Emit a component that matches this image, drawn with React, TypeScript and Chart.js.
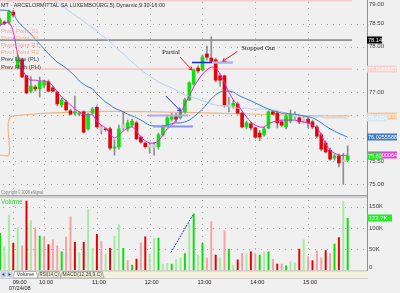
import React, { useEffect, useRef } from 'react';
import { Chart, registerables } from 'chart.js';

Chart.register(...registerables);

const W = 400;
const H = 293;

// ---- price bars (5-minute), index 0..79 ----
const opens = [
  78.49, 78.53, 78.53, 78.75, 77.55, 77.71, 77.36, 77.03, 77.12, 77.08,
  77.16, 77.23, 77.10, 77.01, 76.73, 76.79, 76.60, 76.55, 76.53, 76.58,
  76.21, 76.55, 76.68, 76.25, 76.21, 76.21, 75.79, 75.82, 76.23, 76.21,
  76.29, 76.34, 76.03, 75.90, 75.86, 75.80, 75.82, 76.08, 76.27, 76.42,
  76.47, 76.45, 76.58, 76.84, 77.18, 77.53, 77.49, 77.84, 77.75, 77.71,
  77.36, 77.36, 76.71, 76.71, 76.75, 76.55, 76.25, 76.32, 76.23, 76.12,
  76.08, 76.23, 76.58, 76.55, 76.36, 76.25, 76.38, 76.47, 76.45, 76.38,
  76.42, 76.36, 76.25, 76.08, 75.90, 75.75, 75.58, 75.62, 75.53, 75.53,
];
const highs = [
  78.62, 78.56, 78.79, 78.79, 77.82, 77.75, 77.38, 77.34, 77.16, 77.34,
  77.27, 77.27, 77.14, 77.03, 76.88, 76.84, 76.64, 76.92, 76.58, 76.60,
  76.55, 76.68, 76.71, 76.29, 76.23, 76.25, 75.97, 76.29, 76.58, 76.40,
  76.42, 76.38, 76.05, 75.92, 75.90, 75.92, 76.12, 76.29, 76.51, 76.55,
  76.55, 76.60, 76.88, 77.23, 77.51, 77.58, 77.82, 78.01, 78.21, 77.75,
  77.40, 77.38, 76.90, 76.82, 76.79, 76.58, 76.38, 76.36, 76.25, 76.18,
  76.25, 76.60, 76.60, 76.60, 76.40, 76.53, 76.62, 76.58, 76.49, 76.49,
  76.47, 76.40, 76.29, 76.12, 75.95, 75.79, 75.66, 75.66, 75.68, 75.84,
];
const lows = [
  78.45, 78.47, 78.49, 78.64, 77.51, 77.32, 76.97, 76.99, 77.03, 76.90,
  77.10, 77.01, 77.01, 76.71, 76.68, 76.60, 76.51, 76.51, 76.49, 76.12,
  76.18, 76.53, 76.23, 76.10, 76.16, 75.75, 75.64, 75.77, 76.18, 76.16,
  76.25, 75.97, 75.90, 75.79, 75.68, 75.64, 75.77, 76.05, 76.25, 76.38,
  76.36, 76.42, 76.55, 76.82, 77.16, 77.42, 77.47, 77.71, 77.66, 77.23,
  77.14, 76.68, 76.58, 76.66, 76.53, 76.23, 76.21, 76.18, 76.01, 75.95,
  76.05, 76.21, 76.51, 76.23, 76.25, 76.21, 76.34, 76.42, 76.32, 76.34,
  76.23, 76.21, 76.01, 75.73, 75.68, 75.53, 75.53, 75.38, 75.00, 75.49,
];
const closes = [
  78.58, 78.50, 78.75, 78.68, 77.77, 77.34, 76.99, 77.14, 77.08, 77.23,
  77.23, 77.03, 77.03, 76.75, 76.84, 76.62, 76.53, 76.58, 76.55, 76.14,
  76.53, 76.64, 76.25, 76.18, 76.19, 75.79, 75.82, 76.21, 76.29, 76.34,
  76.38, 75.99, 75.92, 75.82, 75.81, 75.86, 76.08, 76.27, 76.45, 76.47,
  76.42, 76.58, 76.84, 77.21, 77.49, 77.47, 77.77, 77.77, 77.68, 77.27,
  77.27, 76.73, 76.73, 76.77, 76.55, 76.25, 76.34, 76.23, 76.03, 76.03,
  76.21, 76.58, 76.53, 76.34, 76.29, 76.49, 76.53, 76.53, 76.36, 76.45,
  76.34, 76.25, 76.05, 75.77, 75.71, 75.55, 75.62, 75.47, 75.50, 75.62,
];
const paleBars = [23, 28, 34, 35, 52, 67, 69, 78];

// ---- volume (thousands) and its tone: G up, g up (pale), R down, r down (pale) ----
const volumesK = [
  87, 56, 130, 64, 101, 58, 163, 117, 100, 81,
  79, 61, 72, 58, 44, 79, 126, 66, 42, 66,
  144, 52, 85, 68, 39, 52, 81, 108, 52, 23,
  13, 27, 65, 79, 39, 76, 76, 15, 17, 15,
  27, 29, 40, 111, 133, 36, 64, 29, 115, 36,
  29, 93, 50, 13, 25, 40, 40, 44, 40, 36,
  44, 44, 26, 15, 15, 11, 21, 18, 50, 72,
  32, 23, 46, 29, 47, 40, 62, 77, 162, 122.7,
];
const volumeTones = [
  'G', 'g', 'g', 'R', 'g', 'r', 'R', 'g', 'r', 'G',
  'r', 'R', 'r', 'r', 'G', 'r', 'r', 'R', 'g', 'R',
  'g', 'g', 'R', 'r', 'g', 'R', 'g', 'g', 'G', 'r',
  'G', 'R', 'r', 'R', 'g', 'g', 'G', 'g', 'g', 'G',
  'g', 'g', 'G', 'g', 'G', 'g', 'G', 'r', 'r', 'R',
  'g', 'r', 'G', 'g', 'R', 'r', 'g', 'R', 'r', 'G',
  'g', 'G', 'r', 'R', 'r', 'G', 'g', 'g', 'R', 'g',
  'r', 'R', 'r', 'r', 'R', 'r', 'G', 'R', 'g', 'G',
];

// ---- studies ----
const fastAvg = [
  78.47, 78.50, 78.53, 78.32, 77.82, 77.53, 77.34, 77.27, 77.27, 77.25,
  77.25, 77.23, 77.14, 77.01, 76.90, 76.82, 76.73, 76.64, 76.58, 76.53,
  76.51, 76.51, 76.38, 76.29, 76.23, 76.10, 76.01, 76.08, 76.16, 76.23,
  76.25, 76.16, 76.03, 75.95, 75.90, 75.90, 75.95, 76.08, 76.21, 76.29,
  76.40, 76.55, 76.75, 76.92, 77.12, 77.27, 77.40, 77.49, 77.55, 77.53,
  77.40, 77.21, 77.01, 76.84, 76.73, 76.60, 76.47, 76.36, 76.29, 76.25,
  76.25, 76.32, 76.36, 76.38, 76.40, 76.40, 76.40, 76.40, 76.38, 76.36,
  76.34, 76.29, 76.23, 76.08, 75.88, 75.75, 75.68, 75.64, 75.63, 75.64,
];
const midAvg = [
  78.79, 78.79, 78.77, 78.71, 78.55, 78.45, 78.36, 78.27, 78.16, 78.05,
  77.95, 77.84, 77.75, 77.66, 77.60, 77.53, 77.45, 77.36, 77.25, 77.18,
  77.12, 77.08, 76.97, 76.88, 76.79, 76.73, 76.66, 76.62, 76.58, 76.53,
  76.49, 76.45, 76.40, 76.34, 76.29, 76.27, 76.27, 76.27, 76.29, 76.32,
  76.34, 76.34, 76.36, 76.40, 76.47, 76.55, 76.64, 76.75, 76.86, 76.95,
  77.01, 77.03, 77.03, 77.01, 76.95, 76.90, 76.86, 76.82, 76.77, 76.73,
  76.68, 76.64, 76.60, 76.58, 76.55, 76.55, 76.53, 76.53, 76.51, 76.49,
  76.47, 76.45, 76.40, 76.34, 76.27, 76.21, 76.16, 76.11, 76.07, 76.03,
];
const slowAvg = [
  null, null, null, null, null, null, null, null, null, null,
  null, null, 79.01, 78.95, 78.88, 78.82, 78.75, 78.68, 78.62, 78.55,
  78.47, 78.40, 78.34, 78.25, 78.18, 78.10, 78.01, 77.92, 77.84, 77.75,
  77.66, 77.58, 77.49, 77.42, 77.36, 77.29, 77.23, 77.18, 77.14, 77.10,
  77.05, 76.99, 76.95, 76.92, 76.88, 76.86, 76.82, 76.79, 76.75, 76.73,
  76.71, 76.71, 76.68, 76.68, 76.66, 76.66, 76.66, 76.64, 76.64, 76.64,
  76.64, 76.62, 76.62, 76.60, 76.58, 76.55, 76.53, 76.51, 76.49, 76.49,
  76.47, 76.47, 76.47, 76.47, 76.45, 76.45, 76.45, 76.45, 76.45, 76.44,
];
const prevLevelX = [0, 2, 3, 79.5];
const prevLevelY = [75.64, 75.64, 76.49, 76.49];
const pivotLevels = [78.14, 77.51, 79.0];

// ---- axes ----
const priceTicks = [75.0, 75.5, 76.0, 76.5, 77.0, 77.5, 78.0, 78.5, 79.0];
const priceTickLabels = ['75.00', '75.50', '76.00', '76.50', '77.00', '77.50', '78.00', '78.50', '79.00'];
const volumeTicks = [0, 50, 100, 150];
const volumeTickLabels = ['0', '50K', '100K', '150K'];
const timeTickBars = [4, 10, 22, 34, 46, 58, 70];
const timeTickLabels = ['09:00', '10:00', '11:00', '12:00', '13:00', '14:00', '15:00'];
const gridBars = [3, 10, 22, 34, 46, 58, 70];
const dateLabel = '07/24/08';

// ---- right-edge value tags ----
const tagPrices = [78.14, 77.5066667, 76.493333, 76.4354, 76.0255588, 75.6386, 75.62];
const tagTexts = ['78.14', '77.5066667', '76.4933333', '76.4354', '76.0255588', '75.6300064', '75.62'];
const volumeTagValue = 122.7;
const volumeTagText = '122.7K';

// ---- chart annotations (bar index, price) ----
const markFrom = [33.6, 34.8, 43.6, 48.4];
const markTo = [42.7, 43.8, 48.2, 52.9];
const markPrice = [76.51, 76.27, 77.66, 77.66];
const arrowFromX = [40.9, 53.9, 37.7];
const arrowFromP = [77.77, 77.89, 76.92];
const arrowToX = [43.6, 50.6, 41.0];
const arrowToP = [77.49, 77.68, 76.60];
const noteTexts = ['Partial', 'Stopped Out'];
const noteX = [36.8, 54.8];
const noteP = [77.88, 77.96];
const volLineX = [38.8, 43.8];
const volLineV = [42, 130];

const pivotNames = ['Pivot Point S1', 'Pivot Point S2', 'Pivot Point R1', 'Pivot Point R2', 'Prev Low (PL)', 'Prev High (PH)'];
const titleText = 'MT - ARCELORMITTAL SA LUXEMBOURG,5) Dynamic,9:30-16:00';

const SANS = '"Liberation Sans", Arial, sans-serif';
const SERIF = '"Liberation Serif", "Times New Roman", serif';

function drawArrow(ctx: CanvasRenderingContext2D, x1: number, y1: number, x2: number, y2: number, color: string) {
  ctx.strokeStyle = color;
  ctx.lineWidth = 1;
  ctx.beginPath();
  ctx.moveTo(x1, y1);
  ctx.lineTo(x2, y2);
  ctx.stroke();
  const a = Math.atan2(y2 - y1, x2 - x1);
  const h = 3.5;
  ctx.beginPath();
  ctx.moveTo(x2 - h * Math.cos(a - 0.55), y2 - h * Math.sin(a - 0.55));
  ctx.lineTo(x2, y2);
  ctx.lineTo(x2 - h * Math.cos(a + 0.55), y2 - h * Math.sin(a + 0.55));
  ctx.stroke();
}

const decor = {
  id: 'decor',
  beforeDraw(chart: any) {
    const { ctx, width, height } = chart;
    const xs = chart.scales.x;
    const ys = chart.scales.y;
    const yv = chart.scales.yv;
    const area = chart.chartArea;
    ctx.save();
    ctx.fillStyle = '#f0f0f0';
    ctx.fillRect(0, 0, width, height);
    ctx.fillStyle = '#a4a4a4';
    // dotted horizontal grid (price)
    priceTicks.forEach((p) => {
      const py = Math.round(ys.getPixelForValue(p));
      if (py < 2 || py > 194) return;
      for (let px = 3; px < area.right; px += 6) ctx.fillRect(px, py, 1, 1);
    });
    // dotted horizontal grid (volume)
    volumeTicks.forEach((v) => {
      if (v === 0) return;
      const py = Math.round(yv.getPixelForValue(v));
      for (let px = 3; px < area.right; px += 6) ctx.fillRect(px, py, 1, 1);
    });
    // dotted vertical grid
    gridBars.forEach((b) => {
      const px = Math.round(xs.getPixelForValue(b));
      for (let py = 2; py < area.bottom; py += 6) {
        if (py > 193 && py < 199) continue;
        ctx.fillRect(px, py, 1, 1);
      }
    });
    ctx.restore();
  },
  afterDatasetsDraw(chart: any) {
    const { ctx } = chart;
    const xs = chart.scales.x;
    const ys = chart.scales.y;
    const yv = chart.scales.yv;
    const area = chart.chartArea;
    const px = (v: number) => xs.getPixelForValue(v);
    const py = (v: number) => ys.getPixelForValue(v);
    ctx.save();

    // trade markers
    const markColors = ['#a9acf2', '#8d90ee', '#1428e6', '#aeb0f4'];
    const markWidths = [2, 2, 1.5, 2.5];
    markFrom.forEach((f, i) => {
      ctx.strokeStyle = markColors[i];
      ctx.lineWidth = markWidths[i];
      ctx.beginPath();
      const y = Math.round(py(markPrice[i])) + 0.5;
      ctx.moveTo(px(f), y);
      ctx.lineTo(px(markTo[i]), y);
      ctx.stroke();
    });

    // arrows
    const arrowColors = ['#f02020', '#f02020', '#2a2ae0'];
    arrowFromX.forEach((fx, i) => {
      drawArrow(ctx, px(fx), py(arrowFromP[i]), px(arrowToX[i]), py(arrowToP[i]), arrowColors[i]);
    });
    // volume trend line
    ctx.strokeStyle = '#2a36e0';
    ctx.lineWidth = 1;
    ctx.setLineDash([2, 1]);
    ctx.beginPath();
    ctx.moveTo(px(volLineX[0]), yv.getPixelForValue(volLineV[0]));
    ctx.lineTo(px(volLineX[1]), yv.getPixelForValue(volLineV[1]));
    ctx.stroke();
    ctx.setLineDash([]);

    // notes
    ctx.font = '7px ' + SERIF;
    ctx.fillStyle = '#1a1a1a';
    ctx.textAlign = 'left';
    ctx.textBaseline = 'middle';
    noteTexts.forEach((t, i) => {
      ctx.fillText(t, px(noteX[i]), py(noteP[i]), i === 0 ? 18 : 34);
    });

    // panel separator and right border
    ctx.fillStyle = '#a2a2a2';
    ctx.fillRect(0, 195, area.right, 1);
    ctx.fillStyle = '#d2d2d2';
    ctx.fillRect(0, 196, area.right, 1);
    ctx.fillStyle = '#b8b8b8';
    ctx.fillRect(0, 197, area.right, 0.6);
    ctx.fillStyle = '#8e8e8e';
    ctx.fillRect(area.right, 0, 1, 271);

    // title, pivot names, copyright, volume caption
    ctx.textBaseline = 'middle';
    ctx.font = '6px ' + SANS;
    ctx.fillStyle = '#2c2c2c';
    ctx.fillText(titleText, 1, 5, 164);
    const pivotColors = ['#f2a8a8', '#f4b49c', '#f2a4a4', '#f2b27c', '#3a3a3a', '#3a3a3a'];
    pivotNames.forEach((n, i) => {
      ctx.fillStyle = pivotColors[i];
      ctx.fillText(n, 1, 31 + i * 7.2, i >= 4 ? 40 : 38);
    });
    ctx.font = '4.5px ' + SANS;
    ctx.fillStyle = '#7a7a7a';
    ctx.fillText('Copyright \u00a9 2008 eSignal.', 1, 193, 43);
    ctx.font = '6.5px ' + SANS;
    ctx.fillStyle = '#36d036';
    ctx.fillText('Volume', 1, 202, 22);

    // right axis labels
    ctx.font = '6px ' + SANS;
    ctx.fillStyle = '#3a3a3a';
    priceTicks.forEach((p, i) => {
      const y = Math.max(4, py(p));
      ctx.fillText(priceTickLabels[i], 369, y, 15);
    });
    volumeTicks.forEach((v, i) => {
      const y = Math.min(267, yv.getPixelForValue(v));
      ctx.fillText(volumeTickLabels[i], 369, y, 15);
    });

    // value tags
    const tagBg = ['#000000', '#f7d0d0', '#f8c694', '#d6e4fa', '#3d7dbf', '#e23ee2', '#1fee1f'];
    const tagFg = ['#ffffff', '#ffffff', '#ffffff', '#ffffff', '#ffffff', '#ffffff', '#ffffff'];
    const tagW = [15, 30, 30, 20, 30, 30, 15];
    tagPrices.forEach((p, i) => {
      const y = Math.round(py(p));
      ctx.fillStyle = tagBg[i];
      ctx.fillRect(area.right, y - 3.5, tagW[i], 7);
      ctx.fillStyle = tagFg[i];
      ctx.fillText(tagTexts[i], 368, y, tagW[i] - 1);
    });
    {
      const y = Math.round(yv.getPixelForValue(volumeTagValue));
      ctx.fillStyle = '#1fee1f';
      ctx.fillRect(area.right, y - 3.5, 25, 7);
      ctx.fillStyle = '#ffffff';
      ctx.fillText(volumeTagText, 368.5, y, 23);
    }

    // tab bar
    const tb = 270.5;
    ctx.fillStyle = '#f3f1dc';
    ctx.fillRect(0, tb, area.right, 7.5);
    ctx.fillStyle = '#b4b4b4';
    ctx.fillRect(0, tb, area.right, 0.8);
    ctx.fillStyle = '#c8c8c8';
    ctx.fillRect(0, tb + 7.5, area.right + 1, 0.8);
    // scroll buttons
    ctx.fillStyle = '#c4d2ee';
    ctx.fillRect(0.5, tb + 1, 5.5, 6);
    ctx.fillRect(6.8, tb + 1, 5.5, 6);
    ctx.fillStyle = '#2b3f9a';
    ctx.beginPath();
    ctx.moveTo(2, tb + 4);
    ctx.lineTo(4.3, tb + 2.5);
    ctx.lineTo(4.3, tb + 5.5);
    ctx.fill();
    ctx.beginPath();
    ctx.moveTo(10.8, tb + 4);
    ctx.lineTo(8.5, tb + 2.5);
    ctx.lineTo(8.5, tb + 5.5);
    ctx.fill();
    // tabs
    const tabs: [number, number, string, string][] = [
      [13, 38, 'Volume', '#ffffff'],
      [37.5, 61, 'RSI(14,C)', '#f1efd8'],
      [60.5, 104, 'MACD(12,26,9,C)', '#f1efd8'],
    ];
    ctx.font = '5.2px ' + SANS;
    tabs.forEach(([a, b, t, bg]) => {
      ctx.fillStyle = bg;
      ctx.strokeStyle = '#8a8a8a';
      ctx.lineWidth = 0.6;
      ctx.beginPath();
      ctx.moveTo(a, tb + 7.4);
      ctx.lineTo(a + 1.8, tb + 1);
      ctx.lineTo(b - 1.8, tb + 1);
      ctx.lineTo(b, tb + 7.4);
      ctx.closePath();
      ctx.fill();
      ctx.stroke();
      ctx.fillStyle = '#333333';
      ctx.textAlign = 'center';
      ctx.fillText(t, (a + b) / 2, tb + 4.4, b - a - 4);
    });

    // time axis labels
    ctx.font = '6px ' + SANS;
    ctx.fillStyle = '#222222';
    ctx.textAlign = 'center';
    timeTickBars.forEach((b, i) => {
      ctx.fillText(timeTickLabels[i], px(b) + 2, 282, 14);
    });
    ctx.fillText(dateLabel, px(timeTickBars[0]) + 2, 288.5, 22);
    ctx.restore();
  },
};

export default function App() {
  const ref = useRef<HTMLCanvasElement | null>(null);

  useEffect(() => {
    const canvas = ref.current;
    if (!canvas) return;
    const idx = opens.map((_, i) => i);
    const bodyColors = idx.map((i) =>
      paleBars.includes(i) ? '#cdcdcd' : closes[i] >= opens[i] ? '#0ee00e' : '#e20606'
    );
    const toneColor: Record<string, string> = { G: '#0cdc0c', g: '#a4eca4', R: '#e40000', r: '#f2a2a2' };
    const line = (data: any[], color: string, width: number, order: number) => ({
      type: 'line' as const,
      data,
      borderColor: color,
      borderWidth: width,
      pointRadius: 0,
      tension: 0.3,
      fill: false,
      yAxisID: 'y',
      order,
    });

    const chart = new Chart(canvas, {
      type: 'bar',
      data: {
        datasets: [
          line(idx.map((i) => ({ x: i, y: fastAvg[i] })), '#dc22dc', 1, 0),
          line(idx.map((i) => ({ x: i, y: midAvg[i] })), '#3a7bc0', 1, 0),
          line(idx.map((i) => ({ x: i, y: slowAvg[i] })), '#b4cff2', 1, 0),
          {
            type: 'bar',
            data: idx.map((i) => ({ x: i, y: [opens[i], closes[i]] })),
            backgroundColor: bodyColors,
            borderWidth: 0,
            barThickness: 3,
            minBarLength: 1,
            grouped: false,
            yAxisID: 'y',
            order: 1,
          } as any,
          {
            type: 'bar',
            data: idx.map((i) => ({ x: i, y: [lows[i], highs[i]] })),
            backgroundColor: '#8e8e8e',
            borderWidth: 0,
            barThickness: 1,
            grouped: false,
            yAxisID: 'y',
            order: 2,
          } as any,
          line(prevLevelX.map((x, i) => ({ x, y: prevLevelY[i] })), '#f6b47c', 1.2, 3),
          { ...line([{ x: 0, y: pivotLevels[0] }, { x: 80, y: pivotLevels[0] }], '#4a4a4a', 1, 3), tension: 0 },
          { ...line([{ x: 0, y: pivotLevels[1] }, { x: 80, y: pivotLevels[1] }], '#f6cccc', 2, 3), tension: 0 },
          { ...line([{ x: 0, y: pivotLevels[2] }, { x: 80, y: pivotLevels[2] }], '#f6cccc', 2, 3), tension: 0 },
          {
            type: 'bar',
            data: idx.map((i) => ({ x: i, y: volumesK[i] })),
            backgroundColor: volumeTones.map((t) => toneColor[t]),
            borderWidth: 0,
            barThickness: 1.3,
            grouped: false,
            yAxisID: 'yv',
            order: 4,
          } as any,
        ],
      },
      options: {
        responsive: false,
        animation: false,
        events: [],
        layout: { padding: 0 },
        plugins: { legend: { display: false }, tooltip: { enabled: false } },
        scales: {
          x: {
            type: 'linear',
            min: -0.02,
            max: 83.39,
            offset: false,
            grid: { display: false },
            border: { display: false },
            ticks: { display: false },
            afterFit: (s: any) => {
              s.height = 22.5;
            },
          },
          y: {
            type: 'linear',
            position: 'right',
            min: 73.13,
            max: 79.011,
            grid: { display: false },
            border: { display: false },
            ticks: { display: false },
            afterFit: (s: any) => {
              s.width = 33;
            },
          },
          yv: {
            type: 'linear',
            axis: 'y',
            display: false,
            min: 0,
            max: 635,
          },
        },
      } as any,
      plugins: [decor],
    });
    return () => chart.destroy();
  }, []);

  return (
    <div style={{ position: 'absolute', left: 0, top: 0, width: W, height: H, overflow: 'hidden' }}>
      <canvas ref={ref} width={W} height={H} style={{ display: 'block', width: W, height: H }} />
    </div>
  );
}
